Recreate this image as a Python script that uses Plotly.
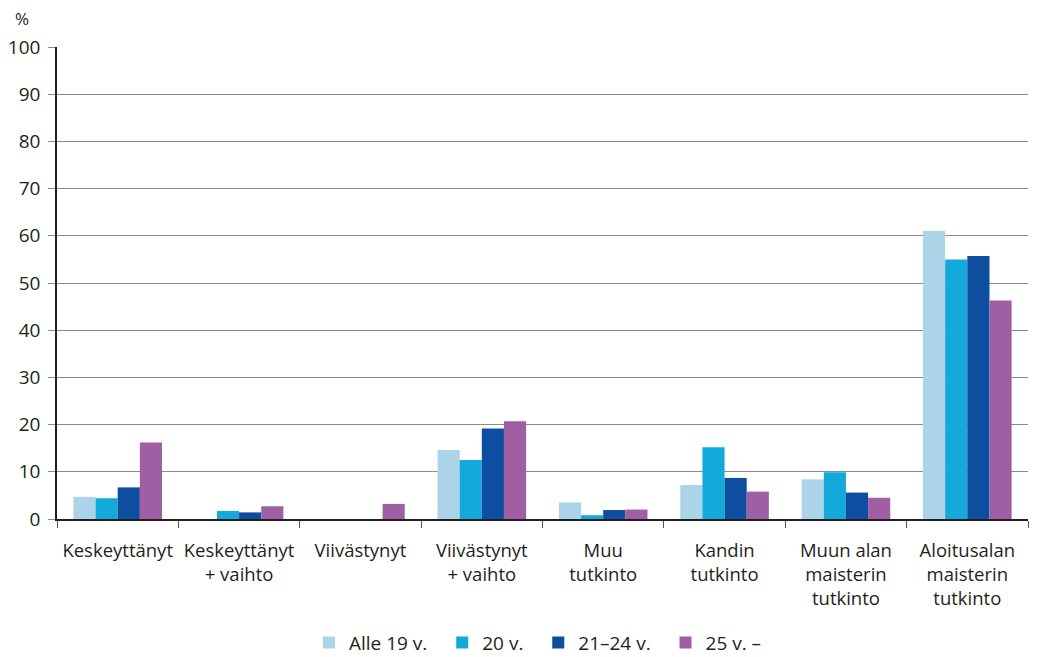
import plotly.graph_objects as go

categories = ["Keskeyttänyt", "Keskeyttänyt<br>+ vaihto", "Viivästynyt", "Viivästynyt<br>+ vaihto",
              "Muu<br>tutkinto", "Kandin<br>tutkinto", "Muun alan<br>maisterin<br>tutkinto",
              "Aloitusalan<br>maisterin<br>tutkinto"]
series_names = ["Alle 19 v.", "20 v.", "21–24 v.", "25 v. –"]
alle19 = [4.7, 0, 0, 14.6, 3.5, 7.2, 8.4, 61.0]
v20 = [4.4, 1.7, 0, 12.5, 0.8, 15.2, 9.9, 55.0]
v21_24 = [6.7, 1.4, 0, 19.2, 1.9, 8.7, 5.6, 55.7]
v25 = [16.2, 2.7, 3.2, 20.7, 2.0, 5.8, 4.5, 46.3]
y_ticks = [0, 10, 20, 30, 40, 50, 60, 70, 80, 90, 100]

colors = ["#abd4e8", "#13a9db", "#0d4ea0", "#a05fa5"]
font = "Open Sans"

fig = go.Figure()
for name, vals, c in zip(series_names, [alle19, v20, v21_24, v25], colors):
    fig.add_trace(go.Bar(x=categories, y=vals, name=name + "\u00a0\u00a0",
                         marker=dict(color=c, line=dict(width=0))))

fig.update_layout(
    width=1038, height=657,
    margin=dict(l=49, r=18, t=39, b=146, autoexpand=False),
    paper_bgcolor="white", plot_bgcolor="white",
    barmode="group", bargap=0.27, bargroupgap=0,
    font=dict(family=font, size=18, color="#231f20"),
    legend=dict(orientation="h", x=0.5, xanchor="center", yref="container", y=0.034, yanchor="middle",
                font=dict(size=19), itemsizing="constant", traceorder="normal"),
    showlegend=True,
)
fig.update_xaxes(
    showline=True, linecolor="#231f20", linewidth=1.5,
    ticks="outside", tickson="boundaries", ticklen=7, tickcolor="#555555",
    showgrid=False, tickfont=dict(size=18.5), automargin=False, ticklabelstandoff=14,
)
fig.update_yaxes(
    range=[0, 100], tickvals=y_ticks, showline=True, linecolor="#231f20", linewidth=1.5,
    showgrid=True, gridcolor="#8a8a8a", gridwidth=1.3,
    ticks="outside", ticklen=7, tickcolor="#8a8a8a", tickfont=dict(size=19),
    zeroline=False, automargin=False, ticklabelstandoff=4,
)
fig.add_annotation(text="%", x=0, xref="paper", xanchor="left", y=1, yref="paper",
                   yanchor="middle", yshift=29, showarrow=False, xshift=-44, font=dict(size=17))

fig.write_html("out.html")
